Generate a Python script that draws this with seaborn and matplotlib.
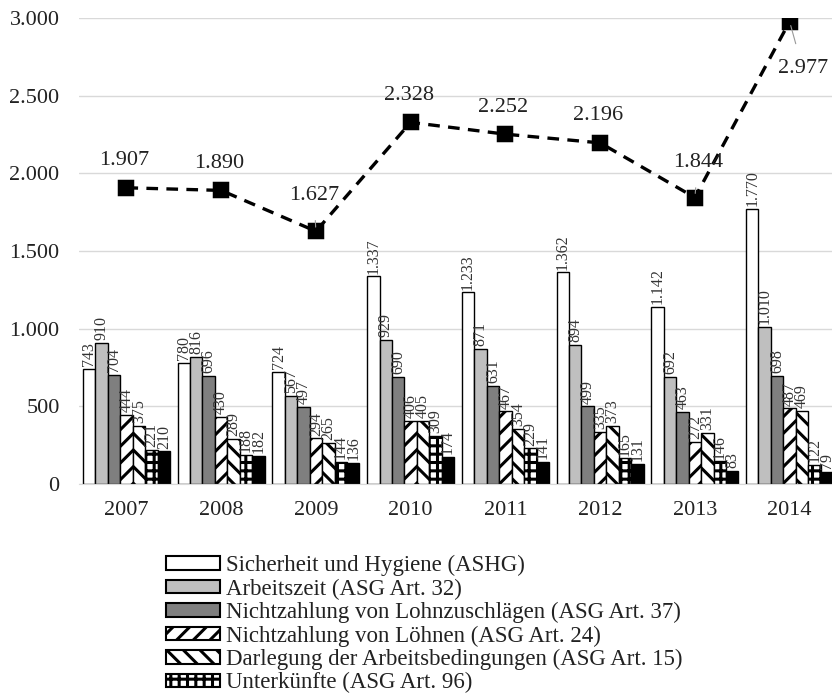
import matplotlib
matplotlib.use("Agg")
import matplotlib.pyplot as plt
import seaborn as sns
import pandas as pd
from matplotlib.patches import Patch

# Jahre und Kategorien der festgestellten Verstöße
jahre = ["2007", "2008", "2009", "2010", "2011", "2012", "2013", "2014"]

sicherheit = [743, 780, 724, 1337, 1233, 1362, 1142, 1770]
arbeitszeit = [910, 816, 567, 929, 871, 894, 692, 1010]
lohnzuschlaege = [704, 696, 497, 690, 631, 499, 463, 698]
loehne = [444, 430, 294, 406, 467, 335, 272, 487]
darlegung = [375, 289, 265, 405, 354, 373, 331, 469]
unterkuenfte = [221, 188, 144, 309, 229, 165, 146, 122]
weitere = [210, 182, 136, 174, 141, 131, 83, 79]

gesamt = [1907, 1890, 1627, 2328, 2252, 2196, 1844, 2977]

serien = [
    "Sicherheit und Hygiene (ASHG)",
    "Arbeitszeit (ASG Art. 32)",
    "Nichtzahlung von Lohnzuschlägen (ASG Art. 37)",
    "Nichtzahlung von Löhnen (ASG Art. 24)",
    "Darlegung der Arbeitsbedingungen (ASG Art. 15)",
    "Unterkünfte (ASG Art. 96)",
    "_weitere",
]
werte = [sicherheit, arbeitszeit, lohnzuschlaege, loehne, darlegung, unterkuenfte, weitere]

rows = []
for name, vals in zip(serien, werte):
    for j, v in zip(jahre, vals):
        rows.append({"Jahr": j, "Kategorie": name, "Anzahl": v})
df = pd.DataFrame(rows)
df_total = pd.DataFrame({"Jahr": jahre, "Gesamt": gesamt})

sns.set_style("white")
plt.rcParams["font.family"] = ["Liberation Serif", "DejaVu Serif"]
plt.rcParams["hatch.linewidth"] = 2.2
plt.rcParams["hatch.color"] = "black"


def de(v):
    return f"{v:,}".replace(",", ".")


fig = plt.figure(figsize=(8.32, 6.97), dpi=100)
ax = fig.add_axes([0.095, 0.3056, 0.911, 0.6686])

faces = ["white", "#bfbfbf", "#7f7f7f", "white", "white", "white", "black"]
hatches = [None, None, None, "//", "\\\\", "++", None]

sns.barplot(data=df, x="Jahr", y="Anzahl", hue="Kategorie", hue_order=serien,
            palette=faces, width=0.92, gap=0, edgecolor="black", linewidth=1.0,
            legend=False, ax=ax, saturation=1)

for cont, fc, h, vals in zip(ax.containers, faces, hatches, werte):
    for bar in cont:
        bar.set_facecolor(fc)
        bar.set_edgecolor("black")
        if h:
            bar.set_hatch(h)
    ax.bar_label(cont, labels=[de(v) for v in vals], rotation=90, padding=2,
                 fontsize=11.5, color="#333333")

sns.pointplot(data=df_total, x="Jahr", y="Gesamt", color="black", errorbar=None,
              marker="s", markersize=10, linestyle=(0, (3.5, 2.5)), linewidth=2.4,
              ax=ax)

# Beschriftung der Gesamtwerte (Versatz in Pixeln)
offsets = {2: (-2, 36), 6: (3, 35), 7: (13, -47)}
for i, v in enumerate(gesamt):
    dx, dy = offsets.get(i, (-2, 27))
    props = None
    if i in offsets:
        props = dict(arrowstyle="-", color="#999999", lw=0.8, shrinkA=9, shrinkB=3)
    ax.annotate(de(v), xy=(i, v), xytext=(dx, dy), textcoords="offset pixels",
                ha="center", va="center", fontsize=16, color="#222222",
                arrowprops=props)

ax.set_ylim(0, 3000)
ax.set_yticks(range(0, 3001, 500))
ax.set_yticklabels([de(t) for t in range(0, 3001, 500)])
ax.set_xlim(-0.5, len(jahre) - 0.5)
ax.set_xlabel("")
ax.set_ylabel("")
ax.yaxis.grid(True, color="#d9d9d9", linewidth=1)
ax.set_axisbelow(True)
for s in ["top", "right", "left"]:
    ax.spines[s].set_visible(False)
ax.spines["bottom"].set_color("#d9d9d9")
ax.tick_params(axis="both", length=0, labelsize=16, colors="#222222")
ax.tick_params(axis="x", pad=12)
ax.tick_params(axis="y", pad=14)

handles = [Patch(facecolor=fc, edgecolor="black", hatch=h, linewidth=1.5)
           for fc, h in zip(faces[:6], hatches[:6])]
fig.legend(handles, serien[:6], loc="upper left",
           bbox_to_anchor=(166 / 832, (697 - 555) / 697), frameon=False,
           fontsize=16.5, handlelength=2.35, handleheight=0.55, handletextpad=0.25,
           labelspacing=0.1, borderpad=0, borderaxespad=0, labelcolor="#222222")

fig.savefig("out.png", dpi=100)
